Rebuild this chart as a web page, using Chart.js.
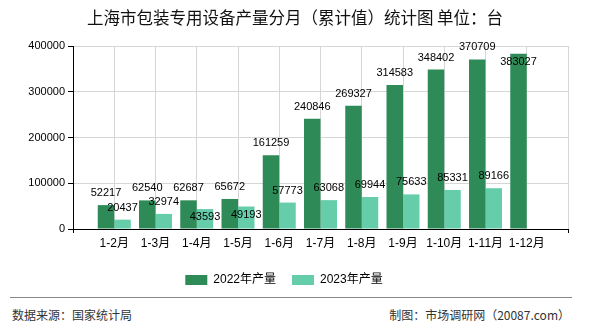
<!DOCTYPE html>
<html lang="zh">
<head>
<meta charset="utf-8">
<title>上海市包装专用设备产量分月（累计值）统计图</title>
<script src="https://cdn.jsdelivr.net/npm/chart.js@4.4.0/dist/chart.umd.min.js"></script>
<style>
  body { margin: 0; background: #fff; font-family: "Noto Sans CJK SC", "Liberation Sans", sans-serif; }
  #wrap { position: relative; width: 590px; height: 330px; overflow: hidden; }
  #title { position: absolute; left: 0; top: 7px; width: 590px; text-align: center; font-size: 16.5px; color: #111; line-height: 20px; }
  #chart { position: absolute; left: 0; top: 0; }
  #rule { position: absolute; left: 10px; top: 297px; width: 562px; height: 0; border-top: 1px solid #888; }
  .foot { position: absolute; top: 306px; font-size: 12px; color: #333; line-height: 18px; }
</style>
</head>
<body>
<div id="wrap">
  <canvas id="chart" width="590" height="300"></canvas>
  <div id="title">上海市包装专用设备产量分月（累计值）统计图 单位：台</div>
  <div id="rule"></div>
  <div class="foot" style="left:12px">数据来源：国家统计局</div>
  <div class="foot" style="right:20px">制图：市场调研网（20087.com）</div>
</div>
<script>
// months, first and last slots are empty on the axis
const months = ['', '1-2月', '1-3月', '1-4月', '1-5月', '1-6月', '1-7月', '1-8月', '1-9月', '1-10月', '1-11月', '1-12月', ''];
const output2022 = [null, 52217, 62540, 62687, 65672, 161259, 240846, 269327, 314583, 348402, 370709, 383027, null];
const output2023 = [null, 20437, 32974, 43593, 49193, 57773, 63068, 69944, 75633, 85331, 89166, null, null];
const yTicks = [0, 100000, 200000, 300000, 400000];

const numFont = '11px "Liberation Sans", sans-serif';

// value labels above the bars; drop below the bar top if it would collide
const barLabels = {
  id: 'barLabels',
  afterDatasetsDraw(chart) {
    const ctx = chart.ctx;
    const area = chart.chartArea;
    const placed = [];
    ctx.save();
    ctx.font = numFont;
    ctx.fillStyle = '#000';
    ctx.textAlign = 'center';
    ctx.textBaseline = 'middle';
    chart.data.datasets.forEach((ds, di) => {
      const meta = chart.getDatasetMeta(di);
      meta.data.forEach((bar, i) => {
        const v = ds.data[i];
        if (v == null) return;
        const txt = String(v);
        const w = ctx.measureText(txt).width;
        let y = bar.y - 12;
        const hit = placed.some(p => Math.abs(p.x - bar.x) < (p.w + w) / 2 && Math.abs(p.y - y) < 12);
        if (hit || y < area.top) y = bar.y + 8;
        placed.push({ x: bar.x, y: y, w: w });
        ctx.fillText(txt, bar.x, y);
      });
    });
    ctx.restore();
  }
};

const ctx = document.getElementById('chart').getContext('2d');
new Chart(ctx, {
  type: 'bar',
  data: {
    labels: months,
    datasets: [
      { label: '2022年产量', data: output2022, backgroundColor: '#2e8b57' },
      { label: '2023年产量', data: output2023, backgroundColor: '#66cdaa' }
    ]
  },
  options: {
    responsive: false,
    animation: false,
    layout: { padding: { top: 46, right: 22, left: 0, bottom: 4 } },
    datasets: { bar: { categoryPercentage: 0.8, barPercentage: 1 } },
    plugins: {
      legend: {
        position: 'bottom',
        labels: {
          boxWidth: 22, boxHeight: 10, padding: 16, color: '#000',
          font: { family: '"Liberation Sans", "Noto Sans CJK SC", sans-serif', size: 12 }
        }
      },
      tooltip: { enabled: false },
      title: { display: false }
    },
    scales: {
      x: {
        offset: false,
        grid: {
          offset: false,
          color: '#d6d6d6',
          tickLength: 4,
          tickColor: c => (c.index === 0 || c.index === months.length - 1) ? '#000' : 'rgba(0,0,0,0)'
        },
        border: { color: '#000' },
        ticks: {
          autoSkip: false, maxRotation: 0, color: '#000', padding: 3,
          font: { family: '"Liberation Sans", "Noto Sans CJK SC", sans-serif', size: 12 }
        },
        afterFit: s => { s.height = 29; }
      },
      y: {
        min: 0, max: 400000,
        afterBuildTicks: s => { s.ticks = yTicks.map(v => ({ value: v })); },
        grid: { color: '#d6d6d6', tickLength: 5, tickColor: '#000' },
        border: { color: '#000' },
        ticks: {
          color: '#000', padding: 3,
          font: { family: '"Liberation Sans", sans-serif', size: 11 },
          callback: v => String(v)
        },
        afterFit: s => { s.width = 73; }
      }
    }
  },
  plugins: [barLabels]
});
</script>
</body>
</html>
